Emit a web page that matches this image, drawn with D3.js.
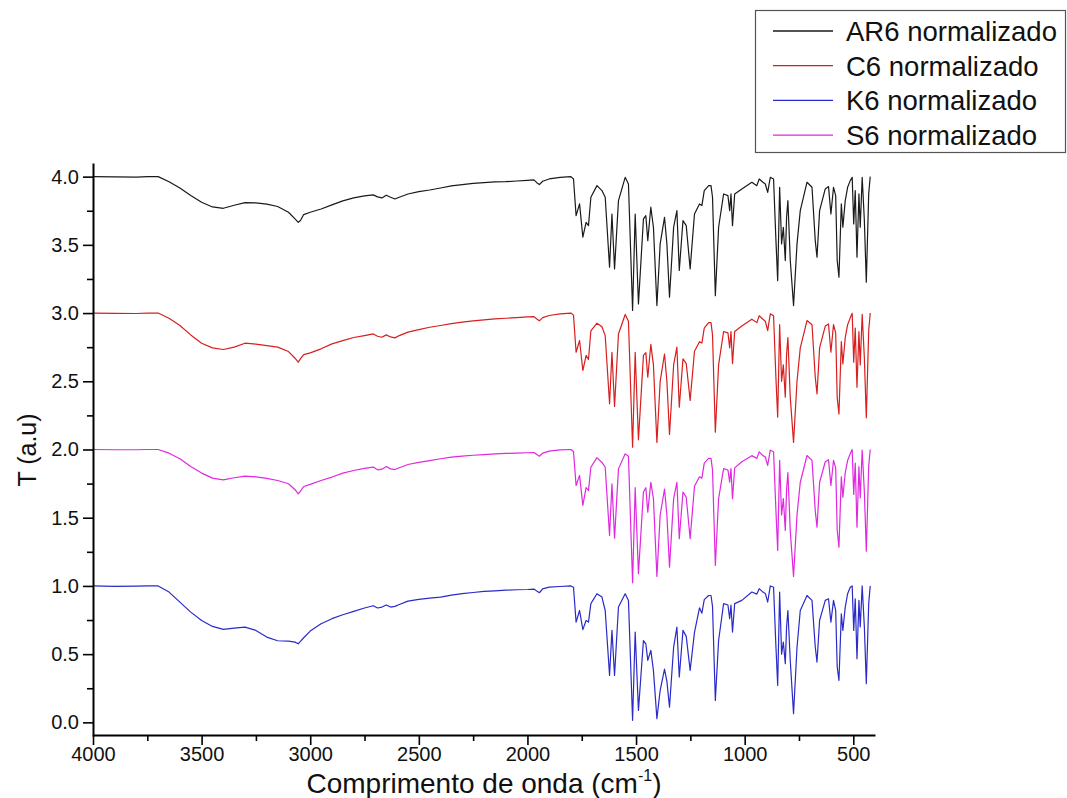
<!DOCTYPE html>
<html>
<head>
<meta charset="utf-8">
<script src="https://cdn.jsdelivr.net/npm/d3@7"></script>
<style>
  body { margin: 0; background: #fff; }
  text { font-family: "Liberation Sans", Arial, sans-serif; fill: #111; }
</style>
</head>
<body>
<script>
// shared wavenumber grid (cm-1)
var wavenumbers = [4000, 3900, 3800, 3750, 3700, 3650, 3600, 3550, 3500, 3450, 3400, 3350, 3300, 3250, 3200, 3150, 3100, 3070, 3055, 3045,
                   3030, 3000, 2950, 2900, 2850, 2800, 2750, 2710, 2690, 2670, 2650, 2630, 2610, 2590, 2550, 2500, 2450, 2400, 2350, 2300,
                   2250, 2200, 2150, 2100, 2050, 2000, 1970, 1957, 1945, 1930, 1900, 1850, 1800,
                   1788, 1776, 1760, 1745, 1730, 1719, 1708, 1680, 1657, 1642,
                   1622, 1611, 1599, 1581, 1550, 1535, 1516, 1504, 1489, 1466,
                   1455, 1446, 1432, 1420, 1404, 1389, 1369, 1358, 1346, 1327,
                   1312, 1301, 1284, 1269, 1251, 1231, 1208, 1197, 1186, 1166,
                   1155, 1148, 1135, 1120, 1097, 1077, 1069, 1063, 1056, 1046,
                   1013, 967, 944, 933, 916, 905, 894, 882, 867, 856,
                   848, 839, 830, 822, 813, 807, 801, 790, 775, 759,
                   744, 713, 690, 675, 667, 655, 629, 614, 603, 591,
                   581, 574, 566, 555, 548, 537, 526, 514, 505, 498,
                   491, 483, 474, 468, 459, 449, 440, 429, 422];

// normalized transmittance of each sample
var ar6 = [1.0, 0.998, 0.997, 1.0, 1.0, 0.963, 0.917, 0.861, 0.812, 0.778, 0.768, 0.79, 0.81, 0.808, 0.798, 0.781, 0.739, 0.69, 0.665, 0.678,
           0.722, 0.739, 0.763, 0.793, 0.822, 0.844, 0.859, 0.866, 0.852, 0.844, 0.864, 0.849, 0.836, 0.849, 0.873, 0.89, 0.902, 0.917, 0.932, 0.942,
           0.951, 0.956, 0.961, 0.963, 0.968, 0.973, 0.976, 0.956, 0.942, 0.966, 0.983, 0.995, 1.0,
           0.983, 0.714, 0.800, 0.556, 0.665, 0.641, 0.849, 0.934, 0.898, 0.849,
           0.336, 0.726, 0.324, 0.824, 0.995, 0.946, 0.019, 0.726, 0.067, 0.690,
           0.714, 0.531, 0.776, 0.629, 0.055, 0.507, 0.702, 0.507, 0.116, 0.629,
           0.751, 0.312, 0.678, 0.641, 0.324, 0.726, 0.800, 0.788, 0.898, 0.934,
           0.934, 0.849, 0.128, 0.629, 0.873, 0.861, 0.751, 0.873, 0.641, 0.873,
           0.910, 0.959, 0.934, 0.983, 0.959, 0.946, 0.885, 0.995, 0.983, 0.531,
           0.238, 0.922, 0.507, 0.629, 0.385, 0.702, 0.824, 0.385, 0.055, 0.507,
           0.751, 0.959, 0.922, 0.531, 0.409, 0.751, 0.910, 0.927, 0.726, 0.922,
           0.861, 0.385, 0.263, 0.800, 0.629, 0.824, 0.922, 0.971, 0.995, 0.653,
           0.898, 0.409, 0.873, 0.629, 0.995, 0.678, 0.226, 0.873, 1.0];

var c6  = [1.0, 0.998, 0.997, 1.0, 1.0, 0.962, 0.909, 0.84, 0.779, 0.745, 0.733, 0.75, 0.779, 0.772, 0.762, 0.75, 0.718, 0.669, 0.64, 0.664,
           0.696, 0.708, 0.738, 0.774, 0.798, 0.821, 0.835, 0.847, 0.83, 0.823, 0.84, 0.825, 0.818, 0.835, 0.86, 0.879, 0.896, 0.909, 0.923, 0.933,
           0.943, 0.95, 0.957, 0.962, 0.967, 0.972, 0.974, 0.957, 0.943, 0.967, 0.982, 0.994, 1.0,
           0.985, 0.713, 0.799, 0.579, 0.69, 0.66, 0.87, 0.926, 0.90, 0.835,
           0.335, 0.713, 0.315, 0.847, 0.99, 0.94, 0.017, 0.713, 0.071, 0.69,
           0.71, 0.53, 0.77, 0.62, 0.052, 0.50, 0.70, 0.50, 0.11, 0.62,
           0.75, 0.31, 0.665, 0.63, 0.36, 0.72, 0.79, 0.78, 0.89, 0.93,
           0.93, 0.84, 0.127, 0.62, 0.865, 0.855, 0.745, 0.865, 0.63, 0.865,
           0.905, 0.955, 0.93, 0.98, 0.955, 0.94, 0.872, 0.994, 0.98, 0.52,
           0.237, 0.915, 0.50, 0.62, 0.383, 0.70, 0.82, 0.38, 0.052, 0.50,
           0.745, 0.945, 0.915, 0.53, 0.408, 0.745, 0.905, 0.92, 0.713, 0.915,
           0.855, 0.38, 0.26, 0.79, 0.627, 0.82, 0.915, 0.965, 0.999, 0.64,
           0.89, 0.456, 0.865, 0.62, 0.99, 0.67, 0.232, 0.87, 1.0];

var k6  = [1.0, 0.997, 0.998, 1.0, 1.0, 0.955, 0.881, 0.808, 0.747, 0.703, 0.681, 0.691, 0.698, 0.674, 0.625, 0.598, 0.596, 0.588, 0.576, 0.593,
           0.62, 0.669, 0.723, 0.76, 0.789, 0.813, 0.838, 0.855, 0.838, 0.845, 0.86, 0.845, 0.85, 0.864, 0.889, 0.901, 0.911, 0.918, 0.933, 0.943,
           0.952, 0.96, 0.964, 0.969, 0.972, 0.974, 0.977, 0.962, 0.95, 0.979, 0.991, 0.996, 1.0,
           0.99, 0.735, 0.82, 0.68, 0.747, 0.735, 0.87, 0.943, 0.918, 0.82,
           0.344, 0.674, 0.344, 0.845, 0.943, 0.894, 0.015, 0.662, 0.088, 0.60,
           0.576, 0.454, 0.528, 0.381, 0.027, 0.235, 0.39, 0.30, 0.112, 0.552,
           0.698, 0.332, 0.674, 0.63, 0.381, 0.66, 0.84, 0.80, 0.90, 0.93,
           0.93, 0.85, 0.161, 0.60, 0.87, 0.86, 0.76, 0.86, 0.662, 0.87,
           0.894, 0.955, 0.94, 0.98, 0.955, 0.945, 0.882, 1.0, 0.99, 0.552,
           0.271, 0.955, 0.50, 0.588, 0.43, 0.70, 0.82, 0.45, 0.064, 0.55,
           0.82, 0.93, 0.894, 0.552, 0.442, 0.747, 0.894, 0.906, 0.735, 0.894,
           0.82, 0.406, 0.308, 0.796, 0.674, 0.845, 0.943, 0.99, 1.0, 0.674,
           0.906, 0.467, 0.894, 0.70, 1.0, 0.70, 0.283, 0.87, 1.0];

var s6  = [1.0, 0.998, 0.998, 1.0, 1.0, 0.973, 0.932, 0.875, 0.827, 0.79, 0.778, 0.793, 0.805, 0.8, 0.788, 0.773, 0.749, 0.705, 0.675, 0.695,
           0.729, 0.744, 0.773, 0.798, 0.827, 0.846, 0.861, 0.871, 0.851, 0.856, 0.875, 0.858, 0.853, 0.866, 0.89, 0.905, 0.919, 0.932, 0.944, 0.951,
           0.958, 0.963, 0.968, 0.971, 0.973, 0.976, 0.978, 0.963, 0.951, 0.973, 0.988, 0.997, 1.0,
           0.985, 0.736, 0.81, 0.59, 0.72, 0.70, 0.87, 0.94, 0.905, 0.87,
           0.37, 0.748, 0.35, 0.858, 0.968, 0.95, 0.023, 0.72, 0.09, 0.688,
           0.72, 0.54, 0.76, 0.64, 0.07, 0.52, 0.71, 0.52, 0.138, 0.64,
           0.76, 0.346, 0.688, 0.65, 0.346, 0.73, 0.80, 0.79, 0.90, 0.935,
           0.935, 0.85, 0.15, 0.64, 0.86, 0.85, 0.76, 0.86, 0.64, 0.865,
           0.91, 0.955, 0.935, 0.983, 0.955, 0.945, 0.883, 0.995, 0.983, 0.55,
           0.26, 0.92, 0.52, 0.64, 0.407, 0.71, 0.83, 0.40, 0.07, 0.52,
           0.76, 0.956, 0.92, 0.55, 0.43, 0.76, 0.91, 0.925, 0.736, 0.92,
           0.865, 0.41, 0.284, 0.80, 0.65, 0.83, 0.92, 0.97, 1.0, 0.67,
           0.90, 0.43, 0.875, 0.645, 0.995, 0.69, 0.255, 0.875, 1.0];

var series_names   = ["AR6 normalizado", "C6 normalizado", "K6 normalizado", "S6 normalizado"];
var series_values  = [ar6, c6, k6, s6];
var series_offsets = [3, 2, 0, 1];
var series_colors  = ["#1a1a1a", "#d81e1e", "#2a2ac8", "#e028e0"];

var x_ticks       = [4000, 3500, 3000, 2500, 2000, 1500, 1000, 500];
var x_minor_ticks = [3750, 3250, 2750, 2250, 1750, 1250, 750];
var y_ticks       = [0.0, 0.5, 1.0, 1.5, 2.0, 2.5, 3.0, 3.5, 4.0];
var y_minor_ticks = [0.25, 0.75, 1.25, 1.75, 2.25, 2.75, 3.25, 3.75];

var width  = 1067,
    height = 798;

var svg = d3.select("body").append("svg")
                           .attr("width", width)
                           .attr("height", height);

svg.append("rect")
   .attr("width", width)
   .attr("height", height)
   .style("fill", "#fff");

var x = d3.scaleLinear().domain([4000, 400]).range([93, 875]);
var y = d3.scaleLinear().domain([-0.1, 4.1]).range([736, 163]);

// spectra
var line = d3.line()
             .x(function(d) { return x(d[0]); })
             .y(function(d) { return y(d[1]); });

series_values.forEach(function(vals, i) {
    var pts = wavenumbers.map(function(w, j) { return [w, vals[j] + series_offsets[i]]; });
    svg.append("path")
       .datum(pts)
       .attr("d", line)
       .style("fill", "none")
       .style("stroke", series_colors[i])
       .style("stroke-width", 1.2)
       .style("stroke-linejoin", "round");
});

// axes
svg.append("g")
   .attr("transform", "translate(0,735)")
   .call(d3.axisBottom(x).tickValues(x_ticks).tickSize(10).tickSizeOuter(0).tickPadding(2)
                         .tickFormat(d3.format("d")));
svg.append("g")
   .attr("transform", "translate(0,735)")
   .call(d3.axisBottom(x).tickValues(x_minor_ticks).tickSize(6).tickFormat(""))
   .select(".domain").remove();

svg.append("g")
   .attr("transform", "translate(93,0)")
   .call(d3.axisLeft(y).tickValues(y_ticks).tickSize(10).tickSizeOuter(0).tickPadding(4)
                       .tickFormat(d3.format(".1f")));
svg.append("g")
   .attr("transform", "translate(93,0)")
   .call(d3.axisLeft(y).tickValues(y_minor_ticks).tickSize(6).tickFormat(""))
   .select(".domain").remove();

svg.selectAll(".domain").style("stroke", "#000").style("stroke-width", 2);
svg.selectAll(".tick line").style("stroke", "#000").style("stroke-width", 1.6);
svg.selectAll(".tick text")
   .style("font-family", "'Liberation Sans', Arial, sans-serif")
   .style("font-size", "20px")
   .style("fill", "#111");

// axis titles
var x_title = svg.append("text")
                 .attr("x", 484)
                 .attr("y", 793)
                 .attr("text-anchor", "middle")
                 .style("font-size", "28px");
x_title.append("tspan").text("Comprimento de onda (cm");
x_title.append("tspan").attr("dy", -12).style("font-size", "16px").text("-1");
x_title.append("tspan").attr("dy", 12).text(")");

svg.append("text")
   .attr("transform", "translate(36,450) rotate(-90)")
   .attr("text-anchor", "middle")
   .style("font-size", "25px")
   .text("T (a.u)");

// legend
var legend = svg.append("g");
legend.append("rect")
      .attr("x", 755.5)
      .attr("y", 10.5)
      .attr("width", 310)
      .attr("height", 142)
      .style("fill", "#fff")
      .style("stroke", "#555")
      .style("stroke-width", 1.2);

var rows = legend.selectAll("g.row")
                 .data(series_names)
                 .enter()
                 .append("g")
                 .attr("class", "row")
                 .attr("transform", function(d, i) { return "translate(0," + (31 + i * 34.7) + ")"; });

rows.append("line")
    .attr("x1", 773).attr("x2", 833)
    .style("stroke", function(d, i) { return series_colors[i]; })
    .style("stroke-width", 1.3);

rows.append("text")
    .attr("x", 846)
    .attr("dy", "0.36em")
    .style("font-size", "27.5px")
    .text(function(d) { return d; });
</script>
</body>
</html>
